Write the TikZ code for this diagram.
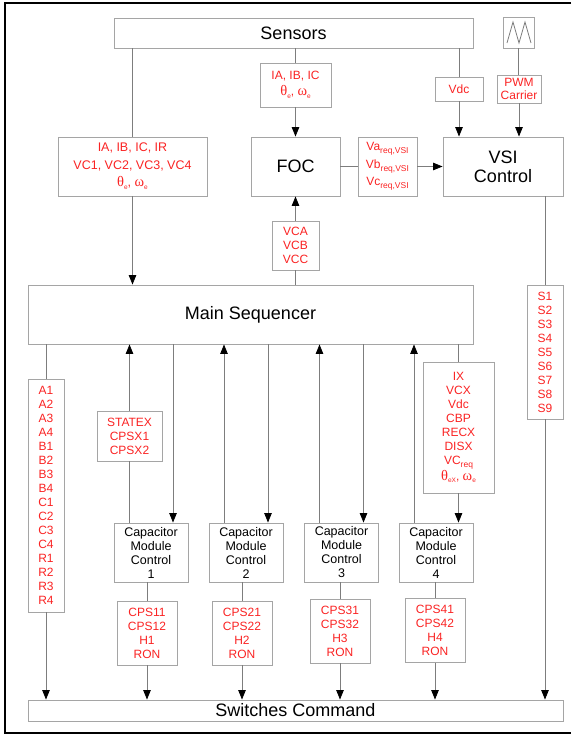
\documentclass[tikz,border=0pt]{standalone}
\usepackage{fontspec}
\setmainfont{Liberation Sans}
\newfontfamily\grkfont{Liberation Serif}
\usetikzlibrary{arrows.meta}
\definecolor{sigred}{RGB}{250,35,35}
\definecolor{boxgray}{RGB}{165,165,165}
\definecolor{wiregray}{RGB}{125,125,125}
\newcommand{\lowtext}[1]{\raisebox{-0.45ex}{\fontsize{8.5}{9}\selectfont #1}}
\newcommand{\grk}[2]{{\grkfont\fontsize{14.5}{14}\selectfont #1}\raisebox{-0.45ex}{\fontsize{6.5}{7}\selectfont #2}}

\begin{document}
\begin{tikzpicture}[x=1pt, y=-1pt,
    box/.style 2 args={minimum width=#1, minimum height=#2},
    blk/.style={draw=boxgray, line width=0.9pt, inner sep=0pt, align=center,
      font=\fontsize{18}{19}\selectfont},
    sig/.style={draw=boxgray, line width=0.9pt, inner sep=0pt, align=center,
      text=sigred, font=\fontsize{12}{14}\selectfont},
    cmc/.style={draw=boxgray, line width=0.9pt, inner sep=0pt, align=center,
      font=\fontsize{12.5}{14}\selectfont, minimum width=74pt, minimum height=59pt},
    wire/.style={draw=wiregray, line width=0.8pt},
    arr/.style={wire, -{Triangle[color=black, length=9.5pt, width=7.5pt]}}]
  \useasboundingbox (0,0) rectangle (571,735);
  \draw[line width=2pt] (571,3) -- (5,3) -- (5,733) -- (571,733);

  % top row
  \node[blk, box={359pt}{30pt}] (sensors) at (293.5,33) {Sensors};
  \node[draw=boxgray, line width=0.9pt, box={31pt}{31pt}] (wave) at (518.5,32.5) {};
  \draw[wire] (507,43) -- (513,22) -- (519,43) -- (525,22) -- (531,43);

  \node[sig, box={149pt}{59pt}, font=\fontsize{12.5}{17.5}\selectfont] (sigall) at (132.5,166.5)
    {IA, IB, IC, IR\\VC1, VC2, VC3, VC4\\\grk{θ}{e}, \grk{ω}{e}};
  \node[sig, box={71pt}{44pt}, font=\fontsize{12}{16.5}\selectfont] (sigfoc) at (295.5,85)
    {IA, IB, IC\\\grk{θ}{e}, \grk{ω}{e}};
  \node[blk, box={89pt}{59pt}] (foc) at (295.5,166.5) {FOC};
  \node[sig, box={47pt}{49pt}] (vcap) at (295.5,245.5) {VCA\\VCB\\VCC};
  \node[sig, box={59pt}{59pt}, font=\fontsize{12}{17.5}\selectfont] (vreq) at (387.5,166.5)
    {Va\lowtext{req,VSI}\\Vb\lowtext{req,VSI}\\Vc\lowtext{req,VSI}};
  \node[blk, box={120pt}{59pt}] (vsi) at (503,166.5) {VSI\\Control};
  \node[sig, box={48pt}{24pt}] (vdc) at (459,89) {Vdc};
  \node[sig, box={44pt}{28pt}, font=\fontsize{12}{13}\selectfont] (pwm) at (519,89) {PWM\\Carrier};

  % sequencer and outputs
  \node[blk, box={445pt}{59pt}] (mainseq) at (250.5,314.5) {Main Sequencer};
  \node[sig, box={36pt}{134pt}] (svec) at (545,352) {S1\\S2\\S3\\S4\\S5\\S6\\S7\\S8\\S9};
  \node[sig, box={36pt}{233pt}] (avec) at (46,495.5)
    {A1\\A2\\A3\\A4\\B1\\B2\\B3\\B4\\C1\\C2\\C3\\C4\\R1\\R2\\R3\\R4};
  \node[sig, box={65pt}{50pt}] (statex) at (129.5,436) {STATEX\\CPSX1\\CPSX2};
  \node[sig, box={71pt}{131pt}] (ix) at (458.5,427.5)
    {IX\\VCX\\Vdc\\CBP\\RECX\\DISX\\VC\lowtext{req}\\\grk{θ}{eX}, \grk{ω}{e}};

  \node[cmc] (cmc1) at (151,552.5) {Capacitor\\Module\\Control\\1};
  \node[cmc] (cmc2) at (246,552.5) {Capacitor\\Module\\Control\\2};
  \node[cmc] (cmc3) at (341.5,552.5) {Capacitor\\Module\\Control\\3};
  \node[cmc] (cmc4) at (436,552.5) {Capacitor\\Module\\Control\\4};

  \node[sig, box={60pt}{64pt}] (cps1) at (147,633) {CPS11\\CPS12\\H1\\RON};
  \node[sig, box={60pt}{64pt}] (cps2) at (242,633) {CPS21\\CPS22\\H2\\RON};
  \node[sig, box={60pt}{64pt}] (cps3) at (340,631) {CPS31\\CPS32\\H3\\RON};
  \node[sig, box={60pt}{64pt}] (cps4) at (435,630.5) {CPS41\\CPS42\\H4\\RON};

  \node[blk, box={535pt}{21pt}] (switches) at (295.5,710.5) {Switches Command};

  % connectors
  \draw[wire] (sensors.south -| sigall.north) -- (sigall.north);
  \draw[arr] (sigall.south) -- (sigall.south |- mainseq.north);
  \draw[wire] (sensors.south -| sigfoc.north) -- (sigfoc.north);
  \draw[arr] (sigfoc.south) -- (foc.north);
  \draw[wire] (vcap.south) -- (vcap.south |- mainseq.north);
  \draw[arr] (vcap.north) -- (foc.south);
  \draw[wire] (foc.east) -- (vreq.west);
  \draw[arr] (vreq.east) -- (vsi.west);
  \draw[wire] (sensors.south -| vdc.north) -- (vdc.north);
  \draw[arr] (vdc.south) -- (vdc.south |- vsi.north);
  \draw[wire] (wave.south) -- (wave.south |- pwm.north);
  \draw[arr] (pwm.south) -- (pwm.south |- vsi.north);
  \draw[wire] (vsi.south -| svec.north) -- (svec.north);
  \draw[arr] (svec.south) -- (svec.south |- switches.north);
  \draw[wire] (mainseq.south -| avec.north) -- (avec.north);
  \draw[arr] (avec.south) -- (avec.south |- switches.north);

  \draw[wire] (cmc1.north -| statex.south) -- (statex.south);
  \draw[arr] (statex.north) -- (statex.north |- mainseq.south);
  \draw[arr] ([xshift=22pt]cmc1.north |- mainseq.south) -- ([xshift=22pt]cmc1.north);
  \foreach \i in {2,3} {
    \draw[arr] ([xshift=-22pt]cmc\i.north) -- ([xshift=-22pt]cmc\i.north |- mainseq.south);
    \draw[arr] ([xshift=22pt]cmc\i.north |- mainseq.south) -- ([xshift=22pt]cmc\i.north);
  }
  \draw[arr] ([xshift=-22pt]cmc4.north) -- ([xshift=-22pt]cmc4.north |- mainseq.south);
  \draw[wire] (mainseq.south -| ix.north) -- (ix.north);
  \draw[arr] (ix.south) -- (ix.south |- cmc4.north);

  \foreach \i in {1,...,4} {
    \draw[wire] (cps\i.north |- cmc\i.south) -- (cps\i.north);
    \draw[arr] (cps\i.south) -- (cps\i.south |- switches.north);
  }
\end{tikzpicture}
\end{document}
